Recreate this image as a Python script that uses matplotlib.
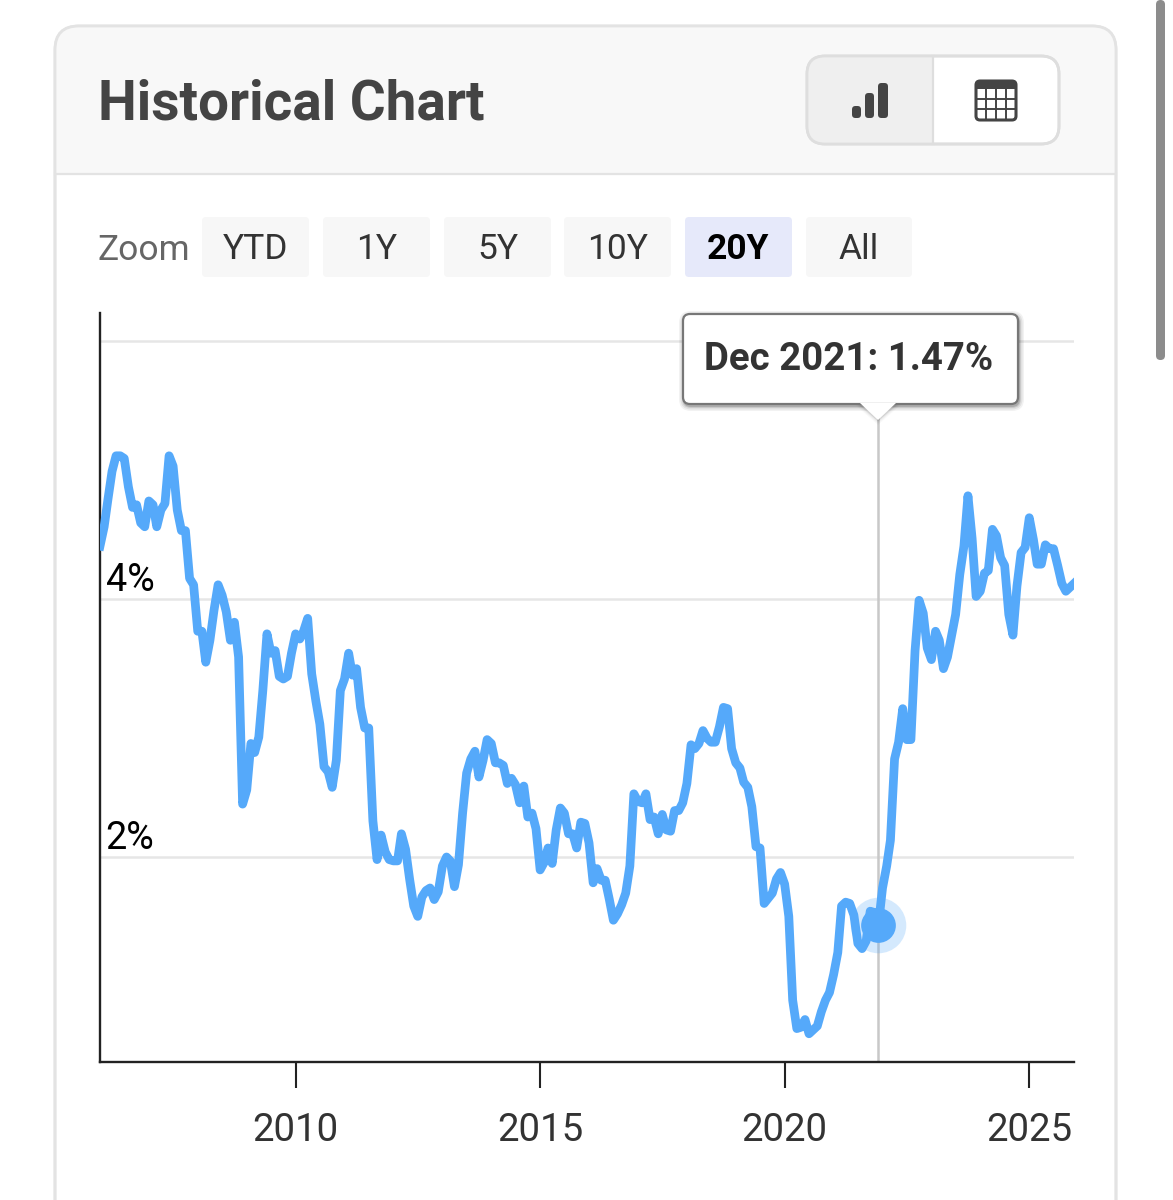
import matplotlib
matplotlib.use("Agg")
import matplotlib.pyplot as plt
import pandas as pd
from matplotlib.patches import FancyBboxPatch, Rectangle, Polygon

plt.rcParams['font.family'] = ['Roboto', 'DejaVu Sans']

start_month = '2006-01-01'
values = [
 4.41,4.56,4.77,4.99,5.11,5.11,5.09,4.87,4.71,4.73,4.59,4.56,
 4.76,4.73,4.56,4.69,4.74,5.11,5.03,4.69,4.53,4.53,4.16,4.11,
 3.75,3.75,3.51,3.68,3.91,4.11,4.03,3.90,3.68,3.82,3.55,2.41,
 2.52,2.88,2.81,2.93,3.29,3.73,3.58,3.60,3.40,3.38,3.40,3.58,
 3.73,3.69,3.75,3.85,3.42,3.21,3.03,2.70,2.66,2.54,2.75,3.29,
 3.38,3.58,3.41,3.46,3.16,3.00,3.00,2.28,1.98,2.17,2.04,1.98,
 1.97,1.97,2.18,2.06,1.83,1.62,1.54,1.69,1.74,1.76,1.67,1.73,
 1.93,2.00,1.97,1.77,1.94,2.34,2.65,2.76,2.82,2.62,2.75,2.91,
 2.88,2.73,2.73,2.71,2.57,2.61,2.56,2.42,2.55,2.31,2.34,2.22,
 1.90,1.96,2.07,1.95,2.21,2.38,2.34,2.18,2.18,2.07,2.27,2.26,
 2.11,1.80,1.91,1.82,1.82,1.67,1.51,1.56,1.63,1.72,1.93,2.49,
 2.43,2.42,2.49,2.29,2.31,2.18,2.33,2.21,2.20,2.36,2.36,2.42,
 2.57,2.87,2.84,2.88,2.98,2.92,2.89,2.89,3.01,3.16,3.15,2.84,
 2.73,2.69,2.58,2.54,2.39,2.08,2.07,1.64,1.68,1.72,1.83,1.88,
 1.79,1.54,0.89,0.67,0.68,0.74,0.63,0.66,0.69,0.80,0.89,0.95,
 1.09,1.26,1.62,1.65,1.64,1.55,1.33,1.29,1.35,1.58,1.57,1.47,
 1.76,1.93,2.13,2.76,2.89,3.15,2.91,2.91,3.60,3.99,3.89,3.62,
 3.53,3.75,3.68,3.46,3.55,3.72,3.88,4.19,4.41,4.80,4.47,4.02,
 4.06,4.20,4.22,4.54,4.49,4.32,4.26,3.88,3.72,4.10,4.36,4.40,
 4.63,4.46,4.27,4.27,4.42,4.39,4.39,4.26,4.12,4.06,4.09,4.12,
]
y_ticks = [2, 4, 6]
y_labels = ['2%', '4%', '']
x_years = ['2010', '2015', '2020', '2025']
highlight_date = '2021-12-01'
highlight_value = 1.47
tooltip_text = 'Dec 2021: 1.47%'
title_text = 'Historical Chart'
zoom_label = 'Zoom'
zoom_buttons = ['YTD', '1Y', '5Y', '10Y', '20Y', 'All']
active_button = '20Y'

W, H = 1173, 1200
fig = plt.figure(figsize=(W/100, H/100), dpi=100, facecolor='white')

bg = fig.add_axes([0, 0, 1, 1], zorder=0)
bg.set_xlim(0, W); bg.set_ylim(H, 0); bg.axis('off')

def rbox(a, x0, y0, x1, y1, r, fc, ec='none', lw=0, z=1, alpha=None):
    p = FancyBboxPatch((x0+r, y0+r), x1-x0-2*r, y1-y0-2*r,
                       boxstyle=f'round,pad={r},rounding_size={r}',
                       fc=fc, ec=ec, lw=lw, zorder=z, alpha=alpha)
    a.add_patch(p)
    return p

# card
rbox(bg, 55, 26, 1116, 1300, 24, 'white', '#e3e3e3', 2, 1)
hdr = Rectangle((55, 26), 1061, 147, fc='#f8f8f8', ec='none', zorder=2)
bg.add_patch(hdr)
hdr.set_clip_path(rbox(bg, 55, 26, 1116, 1300, 24, 'none', 'none', 0, 1))
bg.plot([55, 1116], [173.5, 173.5], color='#e3e3e3', lw=1.6, zorder=3)
rbox(bg, 55, 26, 1116, 1300, 24, 'none', '#e3e3e3', 2, 4)
bg.text(98, 104, title_text, fontsize=39.5, fontweight='bold', color='#444444',
        va='center', ha='left', zorder=5)

# toggle buttons
rbox(bg, 807, 56, 1059, 144, 18, 'white', '#dedede', 2, 5)
seg = Rectangle((807, 56), 126, 88, fc='#efefef', ec='none', zorder=5.5)
bg.add_patch(seg)
seg.set_clip_path(rbox(bg, 807, 56, 1059, 144, 18, 'none', 'none', 0, 5))
rbox(bg, 807, 56, 1059, 144, 18, 'none', '#dedede', 2, 6)
bg.plot([933, 933], [56, 144], color='#dedede', lw=1.6, zorder=6)
for x0, x1, y0 in [(852, 861, 106), (865, 874, 93), (878, 888, 83)]:
    rbox(bg, x0, y0, x1, 118, 3.5, '#444444', z=7)
rbox(bg, 976, 81, 1016, 120, 4, 'white', '#444444', 2.2, 7)
bg.add_patch(Rectangle((976, 81), 40, 8, fc='#444444', ec='none', zorder=7))
for gx in (986, 996, 1006):
    bg.plot([gx, gx], [89, 120], color='#444444', lw=1.4, zorder=8)
for gy in (99, 109):
    bg.plot([976, 1016], [gy, gy], color='#444444', lw=1.4, zorder=8)

# range buttons
bg.text(97.5, 250, zoom_label, fontsize=25.5, color='#666666', va='center', ha='left', zorder=5)
bx = [(202, 309), (323, 430), (444, 551), (564, 671), (685, 792), (806, 912)]
for (x0, x1), lab in zip(bx, zoom_buttons):
    on = lab == active_button
    rbox(bg, x0, 217, x1, 277, 4, '#e6e9fa' if on else '#f7f7f7', z=5)
    bg.text((x0+x1)/2, 249.5, lab, fontsize=25.5, color='black' if on else '#333333',
            fontweight='bold' if on else 'normal', va='center', ha='center', zorder=6)

# scrollbar
rbox(bg, 1156, 0, 1165, 360, 4.5, '#8c8c8c', z=5)

# chart
ax_l, ax_r, ax_t, ax_b = 100, 1074, 313, 1062
ax = fig.add_axes([ax_l/W, 1-ax_b/H, (ax_r-ax_l)/W, (ax_b-ax_t)/H], zorder=2)
ax.patch.set_alpha(0)
dates = pd.date_range(start_month, periods=len(values), freq='MS')
ax.set_xlim(dates[0], dates[-1])
ax.set_ylim(0.411, 6.217)
ax.grid(axis='y', color='#e6e6e6', lw=1.8, zorder=1)
ax.set_yticks(y_ticks, y_labels)
ax.set_xticks(pd.to_datetime([y + '-01-01' for y in x_years]), x_years)
ax.tick_params(axis='x', length=19, width=1.5, color='#222222', labelsize=27.6,
               labelcolor='#333333', pad=17)
ax.tick_params(axis='y', length=0, pad=-4, labelsize=27.2, labelcolor='black')
for t in ax.get_yticklabels():
    t.set_ha('left'); t.set_va('bottom')
for s in ('top', 'right'):
    ax.spines[s].set_visible(False)
for s in ('left', 'bottom'):
    ax.spines[s].set_color('#222222'); ax.spines[s].set_linewidth(1.7)
hd = pd.Timestamp(highlight_date)
ax.axvline(hd, color='#c8c8c8', lw=1.8, zorder=2)
ax.plot(dates, values, color='#55a9fa', lw=6.3, solid_joinstyle='round', zorder=3)
ax.plot([hd], [highlight_value], 'o', ms=40, color='#55a9fa', alpha=0.25, mew=0, zorder=3.5)
ax.plot([hd], [highlight_value], 'o', ms=25, color='#55a9fa', mew=0, zorder=4)

# tooltip
top = fig.add_axes([0, 0, 1, 1], zorder=3)
top.set_xlim(0, W); top.set_ylim(H, 0); top.axis('off')
for grow, a in [(5, 0.05), (3.5, 0.07), (2, 0.10), (1, 0.14)]:
    rbox(top, 683-grow+1, 314-grow+2, 1018+grow+1, 404+grow+2, 7+grow, '#000000', z=1, alpha=a)
    top.add_patch(Polygon([(858-grow, 403), (898+grow, 403), (878, 420+grow)], fc='#000000',
                          ec='none', alpha=a/2, zorder=1))
rbox(top, 683, 314, 1018, 404, 7, 'white', '#777777', 1.6, 2)
top.add_patch(Polygon([(860, 403), (896, 403), (878, 420)], fc='white', ec='none', zorder=3))
top.text(848.5, 359, tooltip_text, fontsize=27.6, fontweight='bold', color='#333333',
         va='center', ha='center', zorder=4)

fig.savefig('out.png', dpi=100)
